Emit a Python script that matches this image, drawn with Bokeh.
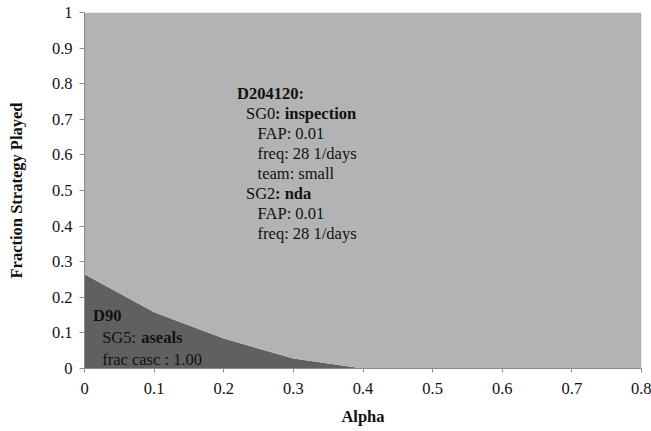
from bokeh.plotting import figure
from bokeh.models import ColumnDataSource, Range1d, FixedTicker
from bokeh.core.properties import value
from bokeh.embed import file_html
from bokeh.resources import INLINE

# ---- data ----
alpha = [0.0, 0.1, 0.2, 0.3, 0.4, 0.5, 0.6, 0.7, 0.8]
d90 = [0.265, 0.158, 0.084, 0.028, 0.0, 0.0, 0.0, 0.0, 0.0]
d204120 = [0.735, 0.842, 0.916, 0.972, 1.0, 1.0, 1.0, 1.0, 1.0]

x_ticks = [0.0, 0.1, 0.2, 0.3, 0.4, 0.5, 0.6, 0.7, 0.8]
x_tick_labels = ["0", "0.1", "0.2", "0.3", "0.4", "0.5", "0.6", "0.7", "0.8"]
y_ticks = [0.0, 0.1, 0.2, 0.3, 0.4, 0.5, 0.6, 0.7, 0.8, 0.9, 1.0]
y_tick_labels = ["0", "0.1", "0.2", "0.3", "0.4", "0.5", "0.6", "0.7", "0.8", "0.9", "1"]

FONT = "Liberation Serif"
DARK = "#606060"
LIGHT = "#b3b3b3"
FS = "16.5px"

src = ColumnDataSource(dict(alpha=alpha, d90=d90, d204120=d204120))

p = figure(width=651, height=431, output_backend="svg", toolbar_location=None,
           x_range=Range1d(0, 0.8), y_range=Range1d(0, 1),
           min_border_left=84, min_border_right=10, min_border_top=12, min_border_bottom=63)
p.outline_line_color = None
p.xgrid.visible = False
p.ygrid.visible = False

p.varea_stack(stackers=["d90", "d204120"], x="alpha", color=[DARK, LIGHT], source=src)

for ax in (p.xaxis[0], p.yaxis[0]):
    ax.axis_line_color = "#8c8c8c"
    ax.major_tick_line_color = "#8c8c8c"
    ax.minor_tick_line_color = None
    ax.major_tick_in = 0
    ax.major_label_text_font = FONT
    ax.major_label_text_font_size = FS
    ax.major_label_text_color = "#111111"
    ax.axis_label_text_font = FONT
    ax.axis_label_text_font_style = "bold"
    ax.axis_label_text_font_size = FS
    ax.axis_label_text_color = "#111111"

p.xaxis.ticker = FixedTicker(ticks=x_ticks)
p.xaxis.major_label_overrides = dict(zip(x_ticks, x_tick_labels))
p.yaxis.ticker = FixedTicker(ticks=y_ticks)
p.yaxis.major_label_overrides = dict(zip(y_ticks, y_tick_labels))
p.xaxis.major_tick_out = 4
p.yaxis.major_tick_out = 5
p.xaxis.major_label_standoff = 10
p.yaxis.major_label_standoff = 7
p.xaxis.axis_label = "Alpha"
p.yaxis.axis_label = "Fraction Strategy Played"
p.xaxis.axis_label_standoff = 10
p.yaxis.axis_label_standoff = 23

# ---- annotation texts ----
def txt(x, y, s, bold=False, xoff=0):
    p.text(x=[x], y=[y], text=[s], x_offset=xoff,
           text_font=value(FONT), text_font_size=FS,
           text_font_style="bold" if bold else "normal",
           text_color="#111111", text_baseline="middle", text_align="left")

txt(0.219, 0.773, "D204120:", bold=True)
txt(0.232, 0.715, "SG0")
txt(0.232, 0.715, ": inspection", bold=True, xoff=29)
txt(0.2486, 0.659, "FAP: 0.01")
txt(0.2486, 0.603, "freq: 28 1/days")
txt(0.2486, 0.547, "team: small")
txt(0.232, 0.491, "SG2")
txt(0.232, 0.491, ": nda", bold=True, xoff=29)
txt(0.2486, 0.435, "FAP: 0.01")
txt(0.2486, 0.378, "freq: 28 1/days")

txt(0.0122, 0.149, "D90", bold=True)
txt(0.0254, 0.087, "SG5: ")
txt(0.0254, 0.087, "aseals", bold=True, xoff=39)
txt(0.0254, 0.025, "frac casc : 1.00")

open("out.html", "w").write(file_html(p, INLINE))
